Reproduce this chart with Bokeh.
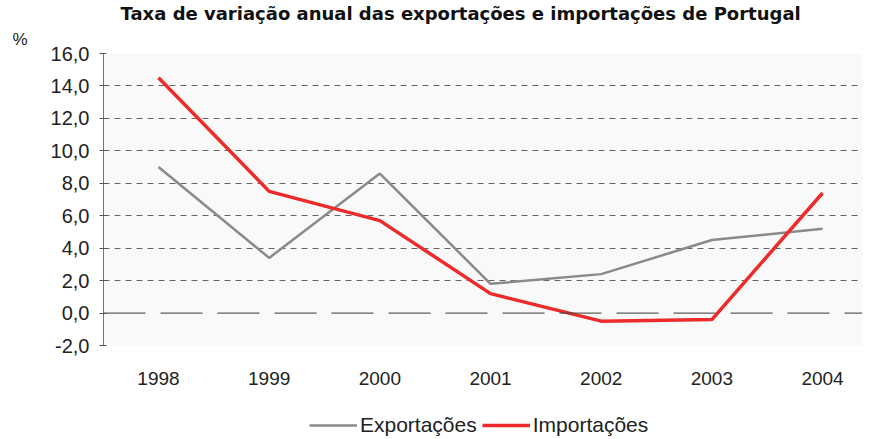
from bokeh.plotting import figure
from bokeh.models import Range1d, FixedTicker, Span, Legend, LegendItem, Title
from bokeh.layouts import column
from bokeh.embed import file_html
from bokeh.resources import INLINE

years = [1998, 1999, 2000, 2001, 2002, 2003, 2004]
year_labels = ["1998", "1999", "2000", "2001", "2002", "2003", "2004"]
exportacoes = [9.0, 3.4, 8.6, 1.8, 2.4, 4.5, 5.2]
importacoes = [14.5, 7.5, 5.7, 1.2, -0.5, -0.4, 7.4]
y_ticks = [-2, 0, 2, 4, 6, 8, 10, 12, 14, 16]
y_tick_labels = ["-2,0", "0,0", "2,0", "4,0", "6,0", "8,0", "10,0", "12,0", "14,0", "16,0"]
title_text = "Taxa de variação anual das exportações e importações de Portugal"
unit_text = "%"
series_names = ["Exportações", "Importações"]
series_colors = ["#8a8a8a", "#ee2b2b"]

W = 862

p = figure(width=W, height=395, output_backend="svg", toolbar_location=None,
           x_range=Range1d(1997.503, 2004.361), y_range=Range1d(-2, 16),
           min_border_left=103, min_border_right=0, min_border_top=47, min_border_bottom=50)
p.outline_line_color = None
p.background_fill_color = "#f9f9f9"
p.border_fill_color = "white"

unit_title = Title(text=unit_text, align="left", offset=-91, standoff=9,
                   text_font="Liberation Sans", text_font_style="normal",
                   text_font_size="17px", text_color="#222222")
p.add_layout(unit_title, "above")
main_title = Title(text=title_text, align="left", offset=17, standoff=0,
                   text_font="DejaVu Sans", text_font_style="bold",
                   text_font_size="18px", text_color="#111111")
p.add_layout(main_title, "above")

# axes
p.xaxis.ticker = FixedTicker(ticks=years)
p.xaxis.major_label_overrides = {y: l for y, l in zip(years, year_labels)}
p.xaxis.axis_line_color = None
p.xaxis.major_tick_line_color = None
p.xaxis.minor_tick_line_color = None
p.xaxis.major_label_standoff = 20
p.xaxis.major_label_text_font = "Liberation Sans"
p.xaxis.major_label_text_font_size = "19px"
p.xaxis.major_label_text_color = "#222222"

p.yaxis.ticker = FixedTicker(ticks=y_ticks)
p.yaxis.major_label_overrides = {t: l for t, l in zip(y_ticks, y_tick_labels)}
p.yaxis.axis_line_color = "#777777"
p.yaxis.major_tick_line_color = "#555555"
p.yaxis.major_tick_in = 3
p.yaxis.major_tick_out = 4
p.yaxis.minor_tick_line_color = None
p.yaxis.major_label_standoff = 10
p.yaxis.major_label_text_font = "Liberation Sans"
p.yaxis.major_label_text_font_size = "20px"
p.yaxis.major_label_text_color = "#222222"

p.xgrid.grid_line_color = None
p.ygrid.ticker = FixedTicker(ticks=[t for t in y_ticks if t != 0])
p.ygrid.grid_line_color = "#333333"
p.ygrid.grid_line_alpha = 0.75
p.ygrid.grid_line_dash = "6 5"
p.ygrid.grid_line_width = 1

zero = Span(location=0, dimension="width", line_color="#444444", line_width=1.2,
            line_dash="42 15", line_alpha=0.85)
p.add_layout(zero)

p.line(years, exportacoes, line_color=series_colors[0], line_width=2.5)
p.line(years, importacoes, line_color=series_colors[1], line_width=3.5)

# legend strip below the chart (its lines lie outside this strip's view)
lg = figure(width=W, height=42, output_backend="svg", toolbar_location=None,
            x_range=Range1d(0, 1), y_range=Range1d(0, 1),
            x_axis_location=None, y_axis_location=None,
            min_border=0, min_border_left=0, min_border_right=0,
            min_border_top=0, min_border_bottom=0)
lg.outline_line_color = None
lg.grid.visible = False
lg_r1 = lg.line(years, exportacoes, line_color=series_colors[0], line_width=2.5)
lg_r2 = lg.line(years, importacoes, line_color=series_colors[1], line_width=3.5)
legend = Legend(items=[LegendItem(label=series_names[0], renderers=[lg_r1]),
                       LegendItem(label=series_names[1], renderers=[lg_r2])],
                orientation="horizontal", location=(206, 0),
                label_text_font="Liberation Sans", label_text_font_size="21px",
                label_text_color="#222222", glyph_width=48, label_standoff=3,
                spacing=5, border_line_color=None, background_fill_alpha=0,
                margin=0, padding=0)
lg.add_layout(legend)

layout = column(p, lg, spacing=0)
open("out.html", "w").write(file_html(layout, INLINE))
